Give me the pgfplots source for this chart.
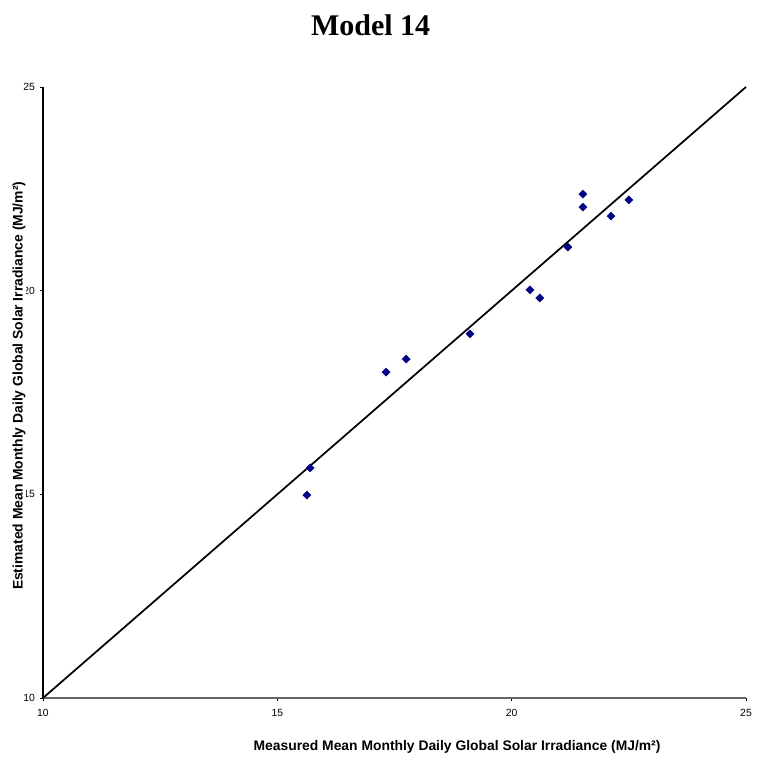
\documentclass[border=0pt]{standalone}
\usepackage{fontspec}
\setmainfont{Liberation Sans}
\newfontfamily\titlefont{Liberation Serif}
\usepackage{pgfplots}
\pgfplotsset{compat=1.18}
\definecolor{ptblue}{HTML}{000080}

\pgfplotstableread{
x y
15.63 14.98
15.70 15.65
17.32 18.00
17.75 18.32
19.11 18.94
20.39 20.02
20.60 19.82
21.20 21.07
21.52 22.37
21.52 22.05
22.12 21.83
22.50 22.23
}\pointsdata

\begin{document}
\begin{tikzpicture}
\begin{axis}[
    at={(0,0)}, anchor=south west,
    scale only axis,
    width=527.25pt,
    height=458.25pt,
    xmin=10, xmax=25,
    ymin=10, ymax=25,
    xtick={10,15,20,25},
    ytick={10,15,20,25},
    axis x line*=bottom,
    axis y line*=left,
    x axis line style={-, draw=gray!80!black, line width=0.9pt},
    y axis line style={-, draw=black, line width=0.9pt},
    tick align=outside,
    major tick length=2.5pt,
    tick style={black, line width=0.6pt},
    /pgf/number format/assume math mode=true,
    tick label style={font=\fontsize{7.8}{9}\selectfont},
    x tick label style={yshift=-2.5pt},
    xlabel={Measured Mean Monthly Daily Global Solar Irradiance (MJ/m²)},
    ylabel={Estimated Mean Monthly Daily Global Solar Irradiance (MJ/m²)},
    label style={font=\bfseries\fontsize{10.4}{12}\selectfont},
    xlabel style={at={(axis description cs:0.589,-0.080)}, anchor=center},
    ylabel style={at={(axis description cs:-0.034,0.511)}, anchor=center, fill=white, inner sep=0.5pt},
    title={Model 14},
    title style={font=\titlefont\bfseries\fontsize{22.5}{26}\selectfont, at={(axis description cs:0.466,1)}, anchor=center, yshift=40.5pt},
    clip=false,
]
\addplot[black, line width=1.3pt] coordinates {(10,10) (25,25)};
\addplot[only marks, mark=square*, mark size=2.1pt, mark options={rotate=45, draw=ptblue, fill=ptblue}] table[x=x, y=y] {\pointsdata};
\end{axis}
\useasboundingbox (-32.25pt,-46.5pt) rectangle (554.25pt,523.5pt);
\end{tikzpicture}
\end{document}
